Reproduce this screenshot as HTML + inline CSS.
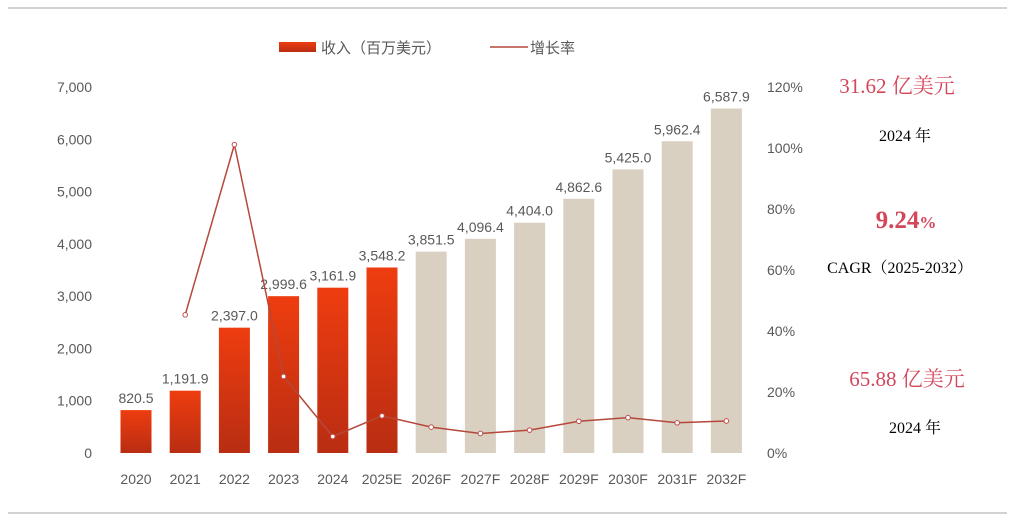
<!DOCTYPE html>
<html><head><meta charset="utf-8"><style>
body{margin:0;background:#fff;width:1015px;height:523px;overflow:hidden;font-family:"Liberation Sans","Noto Sans CJK SC",sans-serif}
svg text{font-family:"Liberation Sans","Noto Sans CJK SC",sans-serif}
.serif{font-family:"Liberation Serif","Noto Serif CJK SC",serif}
</style></head><body>
<svg id="c" width="1015" height="523">
<defs>
<linearGradient id="rg" x1="0" y1="0" x2="0" y2="1"><stop offset="0" stop-color="#ee3d10"/><stop offset="1" stop-color="#b92d12"/></linearGradient>
</defs>
<line x1="8" y1="8" x2="1007" y2="8" stroke="#a6a6a6"/>
<line x1="8" y1="513" x2="1007" y2="513" stroke="#a6a6a6"/>
<g>
<rect x="279" y="42" width="37" height="10" fill="url(#rg)"/>
<text x="321" y="53" font-size="15" fill="#595959">收入（百万美元）</text>
<line x1="490" y1="47" x2="528" y2="47" stroke="#b5483a" stroke-width="1.5"/>
<text x="530" y="53" font-size="15" fill="#595959">增长率</text>
</g>
<g id="ax"></g><g id="bars"></g><g id="line"></g>
<g>
<text x="897" y="93" font-size="21" fill="#d4465a" text-anchor="middle" class="serif">31.62 亿美元</text>
<text x="905" y="141" font-size="16" fill="#000" text-anchor="middle" class="serif">2024 年</text>
<text x="906" y="228" font-size="25" fill="#d4465a" text-anchor="middle" class="serif" font-weight="bold">9.24<tspan font-size="17">%</tspan></text>
<text x="900" y="273" font-size="16" fill="#000" text-anchor="middle" class="serif">CAGR（2025-2032）</text>
<text x="907" y="386" font-size="21" fill="#d4465a" text-anchor="middle" class="serif">65.88 亿美元</text>
<text x="915" y="433" font-size="16" fill="#000" text-anchor="middle" class="serif">2024 年</text>
</g>
</svg>
<script>
const categories=["2020","2021","2022","2023","2024","2025E","2026F","2027F","2028F","2029F","2030F","2031F","2032F"];
const revenue=[820.5,1191.9,2397.0,2999.6,3161.9,3548.2,3851.5,4096.4,4404.0,4862.6,5425.0,5962.4,6587.9];
const growth=[null,45.3,101.1,25.1,5.4,12.2,8.5,6.4,7.5,10.4,11.6,9.9,10.5];
const leftTicks=[0,1000,2000,3000,4000,5000,6000,7000];
const rightTicks=[0,20,40,60,80,100,120];
const actualCount=6;
const NS="http://www.w3.org/2000/svg";
const y0=453,yTop=87;
const yL=v=>y0-(v/7000)*(y0-yTop);
const yR=v=>y0-(v/120)*(y0-yTop);
const xC=i=>136+i*49.2;
function mk(t,a,p){const e=document.createElementNS(NS,t);for(const k in a)e.setAttribute(k,a[k]);p.appendChild(e);return e;}
const ax=document.getElementById('ax'),bars=document.getElementById('bars'),line=document.getElementById('line');
leftTicks.forEach(v=>{const t=mk('text',{x:92,y:yL(v)+5,'font-size':14,fill:'#595959','text-anchor':'end'},ax);t.textContent=v.toLocaleString('en-US');

});
rightTicks.forEach(v=>{const t=mk('text',{x:767,y:yR(v)+5,'font-size':14,fill:'#595959'},ax);t.textContent=v+'%';

});
categories.forEach((c,i)=>{const t=mk('text',{x:xC(i),y:484,'font-size':14,fill:'#595959','text-anchor':'middle'},ax);t.textContent=c;

});
revenue.forEach((v,i)=>{const r=mk('rect',{x:xC(i)-15.5,y:yL(v),width:31,height:y0-yL(v),fill:i<actualCount?'url(#rg)':'#d9d0c1'},bars);


const t=mk('text',{x:xC(i),y:yL(v)-7,'font-size':14,fill:'#595959','text-anchor':'middle'},bars);
t.textContent=v.toLocaleString('en-US',{minimumFractionDigits:1,maximumFractionDigits:1});

});
const pts=[];growth.forEach((g,i)=>{if(g!==null)pts.push([xC(i),yR(g)]);});
const pl=mk('polyline',{points:pts.map(p=>p.join(',')).join(' '),fill:'none',stroke:'#b5483a','stroke-width':1.5},line);


pts.forEach(p=>{const c=mk('circle',{cx:p[0],cy:p[1],r:2.3,fill:'#fff',stroke:'#c0504d','stroke-width':1},line);

});
</script>
</body></html>
